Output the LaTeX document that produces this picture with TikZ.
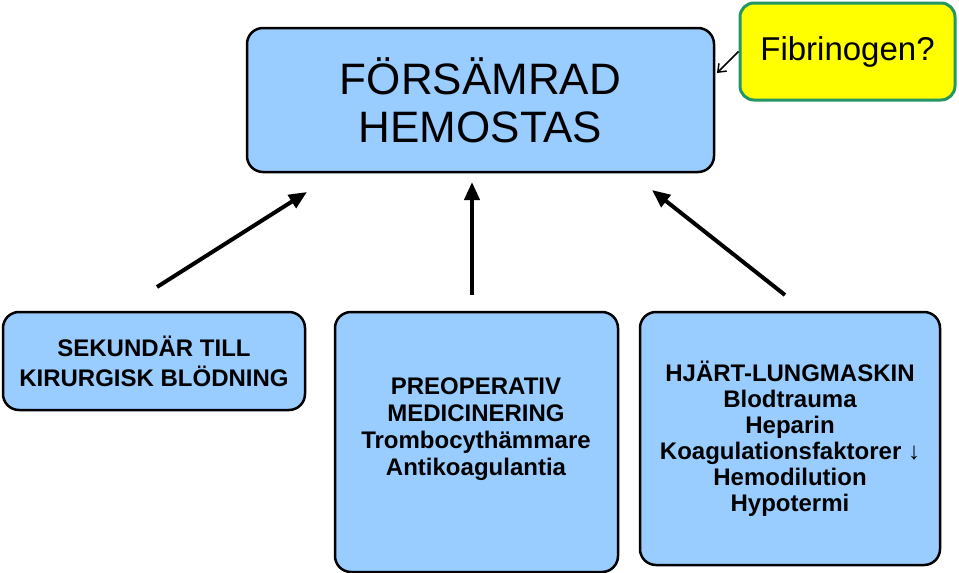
\documentclass[tikz,border=0pt]{standalone}
\usepackage{fontspec}
\setmainfont{Liberation Sans}
\usetikzlibrary{arrows.meta}
\definecolor{boxblue}{RGB}{153,204,255}
\definecolor{fibgreen}{RGB}{34,150,100}
\definecolor{fibyellow}{RGB}{255,255,0}

\begin{document}
\begin{tikzpicture}[x=1pt, y=-1pt,
  box/.style={draw, line width=2.5pt, rounded corners=16pt, fill=boxblue, align=center, inner sep=0pt},
  pil/.style={line width=4pt, -{Triangle[length=18pt,width=15pt]}},
  fet/.style={font=\fontsize{24}{27}\selectfont\bfseries, align=center}]
\useasboundingbox (0,0) rectangle (959,573);
% huvudrutan
\node[box, minimum width=467pt, minimum height=144pt, font=\fontsize{44}{48}\selectfont] (hemo) at (480.5,100) {FÖRSÄMRAD\\HEMOSTAS};
\node[draw=fibgreen, line width=3pt, rounded corners=14pt, fill=fibyellow, minimum width=215pt, minimum height=97pt, font=\fontsize{33}{36}\selectfont] (fib) at (847.5,51.5) {Fibrinogen?};
% orsaker
\node[box, fet, minimum width=302pt, minimum height=98pt, font=\fontsize{24}{30}\selectfont\bfseries] (kir) at (154,361) {SEKUNDÄR TILL\\KIRURGISK BLÖDNING};
\node[box, minimum width=283pt, minimum height=260pt] (med) at (476.5,442) {};
\node[fet] (medtxt) at (476,429.5) {PREOPERATIV\\MEDICINERING\\Trombocythämmare\\Antikoagulantia};
\node[box, fet, minimum width=300pt, minimum height=253pt, font=\fontsize{24}{26}\selectfont\bfseries] (hlm) at (790,438.5) {HJÄRT-LUNGMASKIN\\Blodtrauma\\Heparin\\Koagulationsfaktorer ↓\\Hemodilution\\Hypotermi};
% pilar
\coordinate (v0) at (157,287);
\coordinate (v1) at (307,192);
\coordinate (m0) at (472,295);
\coordinate (m1) at (472,182);
\coordinate (h0) at (785,295);
\coordinate (h1) at (652,190);
\coordinate (f1) at (717,73);
\draw[pil] (v0) -- (v1);
\draw[pil] (m0) -- (m1);
\draw[pil] (h0) -- (h1);
\draw[line width=1.5pt, -{Straight Barb[length=7pt,width=11pt]}] (fib.west) -- (f1);
\end{tikzpicture}
\end{document}
